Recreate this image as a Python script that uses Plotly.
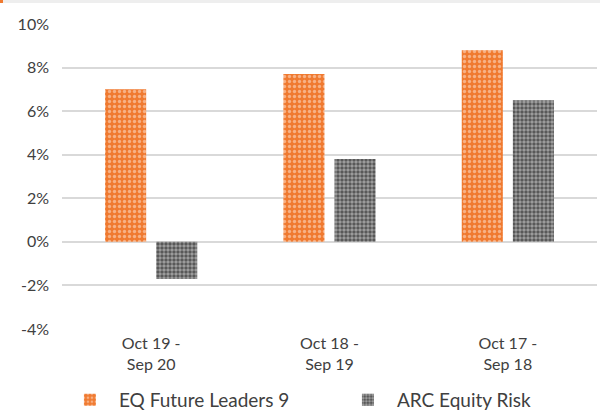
import plotly.graph_objects as go

categories = ["Oct 19 -<br>Sep 20", "Oct 18 -<br>Sep 19", "Oct 17 -<br>Sep 18"]
eq_future_leaders = [7.0, 7.7, 8.8]
arc_equity_risk = [-1.7, 3.8, 6.5]
tick_vals = [-4, -2, 0, 2, 4, 6, 8, 10]
tick_text = ["-4%", "-2%", "0%", "2%", "4%", "6%", "8%", "10%"]

FONT = "Lato, Open Sans, sans-serif"
TXT = "#404040"

fig = go.Figure()
fig.add_trace(go.Bar(
    x=categories, y=eq_future_leaders, name="EQ Future Leaders 9",
    marker=dict(color="#F07A30", line=dict(width=0),
                pattern=dict(shape=".", fgcolor="#FDE8DA", bgcolor="#F07A30",
                             size=5, solidity=0.35, fillmode="overlay")),
))
fig.add_trace(go.Bar(
    x=categories, y=arc_equity_risk, name="ARC Equity Risk",
    marker=dict(color="#505050", line=dict(width=0),
                pattern=dict(shape=".", fgcolor="#E6E6E6", bgcolor="#505050",
                             size=4, solidity=0.6, fillmode="overlay")),
))

fig.update_layout(
    width=600, height=415,
    margin=dict(l=62, r=3, t=24, b=86, autoexpand=False),
    paper_bgcolor="white", plot_bgcolor="white",
    barmode="group", bargap=0.427, bargroupgap=0.196,
    font=dict(family=FONT, size=16, color=TXT),
    showlegend=True,
    legend=dict(orientation="h", x=-0.002, xanchor="left", y=-0.17, yanchor="top",
                font=dict(size=19, color=TXT), entrywidth=215, itemwidth=48,
                bgcolor="rgba(0,0,0,0)"),
    xaxis=dict(showgrid=False, showline=False, ticks="", ticklabelstandoff=3,
               tickfont=dict(size=16, color=TXT)),
    yaxis=dict(range=[-4, 10], tickvals=tick_vals, ticktext=tick_text,
               showgrid=True, gridcolor="#D9D9D9", gridwidth=1.5,
               zeroline=True, zerolinecolor="#D9D9D9", zerolinewidth=1.5,
               showline=False, ticks="", ticklen=0, ticklabelstandoff=12,
               tickfont=dict(size=16, color=TXT)),
    shapes=[
        dict(type="rect", xref="paper", yref="paper", x0=-62/535, x1=1+3/535,
             y0=1+21/305, y1=1+24/305, fillcolor="#EEEEEE", line=dict(width=0), layer="below"),
        dict(type="rect", xref="paper", yref="paper", x0=-62/535, x1=-59/535,
             y0=1+21/305, y1=1+24/305, fillcolor="#F07A30", line=dict(width=0)),
    ],
)

fig.write_html("out.html", config={"displayModeBar": False},
               post_script="document.body.style.margin='0';document.body.style.padding='0';")
